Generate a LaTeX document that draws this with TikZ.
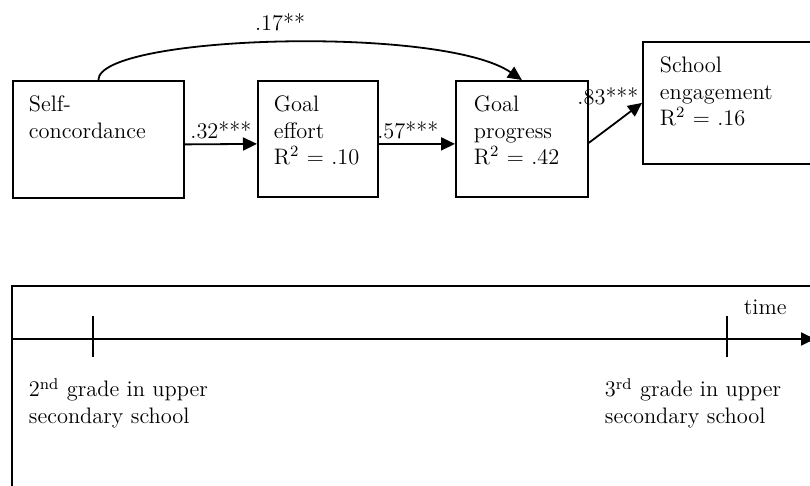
\documentclass[tikz,border=0pt]{standalone}
\usetikzlibrary{arrows.meta}

\begin{document}
\begin{tikzpicture}[x=0.5pt, y=-0.5pt, >={Triangle[length=7pt, width=6.5pt]}, line width=0.9pt,
    box/.style={draw, rectangle, inner sep=0pt, anchor=north west},
    txt/.style={anchor=base west, align=left, inner sep=0pt, text width=120pt,
        font=\fontsize{11.2}{13.2}\selectfont},
    coef/.style={inner sep=2pt, font=\fontsize{11.2}{13.2}\selectfont},
    tickmark/.style={line width=0.6pt}]
    \useasboundingbox (0,0) rectangle (810,486);
    \clip (0,0) rectangle (810,486);

    % path model
    \node[box, minimum width=85.5pt, minimum height=58.5pt] (sc) at (12,80) {};
    \node[box, minimum width=60pt, minimum height=58pt] (ge) at (257,80) {};
    \node[box, minimum width=66pt, minimum height=58pt] (gp) at (455,80) {};
    \node[box, minimum width=90pt, minimum height=61pt] (se) at (642,41) {};
    \node[txt] (sctxt) at ([shift={(8pt,-16pt)}]sc.north west) {Self-\\concordance};
    \node[txt] (getxt) at ([shift={(8pt,-16pt)}]ge.north west) {Goal\\effort\\R\textsuperscript{2} = .10};
    \node[txt] (gptxt) at ([shift={(9pt,-16pt)}]gp.north west) {Goal\\progress\\R\textsuperscript{2} = .42};
    \node[txt] (setxt) at ([shift={(8.5pt,-16pt)}]se.north west) {School\\engagement\\R\textsuperscript{2} = .16};

    \draw[->] ([yshift=-2.5pt]sc.east) -- ([yshift=-2.5pt]ge.west) node[coef, midway, above] {.32***};
    \draw[->] ([yshift=-2.5pt]ge.east) -- ([yshift=-2.5pt]gp.west) node[coef, pos=0.38, above] {.57***};
    \draw[->] ([yshift=-2pt]gp.east) -- (se.west) node[coef, pos=0.95, anchor=base east, inner sep=0pt] {.83***};
    \draw[->] (sc.north) .. controls +(0,-45) and +(-80,-55) .. (gp.north) node[coef, midway, above=3.5pt] {.17**};

    % time line
    \draw (12,286) rectangle (830,520);
    \coordinate (tstart) at (12,339);
    \coordinate (tend) at (815,339);
    \draw[->] (tstart) -- (tend);
    \foreach \x in {93,727}
        \draw[tickmark] (\x,316) -- (\x,357);
    \node[coef, anchor=base west, inner sep=0pt] (time) at (743,315) {time};
    \node[txt] (grade2) at (28,397) {2\textsuperscript{nd} grade in upper\\secondary school};
    \node[txt] (grade3) at (604,397) {3\textsuperscript{rd} grade in upper\\secondary school};
\end{tikzpicture}
\end{document}
